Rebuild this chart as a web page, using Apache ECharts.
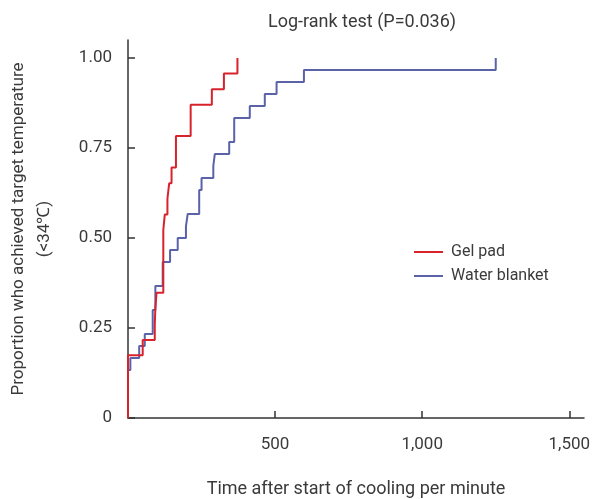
<!DOCTYPE html>
<html>
<head>
<meta charset="utf-8">
<script src="https://cdn.jsdelivr.net/npm/echarts@6/dist/echarts.min.js"></script>
<style>
  html, body { margin: 0; padding: 0; background: #fff; }
</style>
</head>
<body>
<div id="main" style="width: 593px;height:499px;"></div>
<script type="text/javascript">

    // Kaplan-Meier curves (time in minutes, cumulative proportion)
    var gelTime = [0, 0, 50, 91, 93, 97, 120, 120, 120, 120, 125, 134, 140, 148, 163, 163, 213, 213, 285, 326, 372];
    var gelProb = [0, 0.174, 0.217, 0.261, 0.304, 0.348, 0.391, 0.435, 0.478, 0.522, 0.565, 0.609, 0.652, 0.696, 0.739, 0.783, 0.826, 0.870, 0.913, 0.957, 1.0];

    var blanketTime = [0, 0, 8, 38, 57, 84, 84, 93, 93, 118, 118, 143, 169, 197, 203, 242, 242, 250, 290, 295, 344, 361, 361, 414, 465, 505, 598, 1250];
    var blanketProb = [0, 0.133, 0.167, 0.2, 0.233, 0.267, 0.3, 0.333, 0.367, 0.4, 0.433, 0.467, 0.5, 0.533, 0.567, 0.6, 0.633, 0.667, 0.7, 0.733, 0.767, 0.8, 0.833, 0.867, 0.9, 0.933, 0.967, 1.0];

    var xTicks = [500, 1000, 1500];
    var yTicks = [0, 0.25, 0.5, 0.75, 1.0];
    var yTickLabels = ['0', '0.25', '0.50', '0.75', '1.00'];

    function pairs(xs, ys) {
        var out = [];
        for (var i = 0; i < xs.length; i++) {
            out.push([xs[i], ys[i]]);
        }
        return out;
    }

    var myChart = echarts.init(document.getElementById('main'));

    var textColor = '#3a3a3a';
    var font = 'Roboto';

    var option = {
        animation: false,
        title: {
            text: 'Log-rank test (P=0.036)',
            left: 357,
            textAlign: 'center',
            top: 8,
            textStyle: { fontFamily: font, fontSize: 18, fontWeight: 'normal', color: textColor }
        },
        legend: {
            orient: 'vertical',
            left: 409,
            top: 239,
            itemWidth: 29,
            itemHeight: 2,
            itemGap: 8,
            icon: 'rect',
            textStyle: { fontFamily: font, fontSize: 16, color: textColor, lineHeight: 16, padding: [0, 0, 0, 3] },
            data: ['Gel pad', 'Water blanket']
        },
        grid: {
            left: 128,
            right: 9,
            top: 40,
            bottom: 81,
            containLabel: false,
            outerBoundsMode: 'none'
        },
        xAxis: {
            type: 'value',
            min: 0,
            max: 1550,
            name: 'Time after start of cooling per minute',
            nameLocation: 'middle',
            nameGap: 62,
            nameTextStyle: { fontFamily: font, fontSize: 18, color: textColor },
            splitLine: { show: false },
            axisLine: { lineStyle: { color: '#333', width: 1.5 } },
            axisTick: { inside: true, length: 7, customValues: xTicks, lineStyle: { color: '#333', width: 1.5 } },
            axisLabel: {
                customValues: xTicks,
                margin: 18,
                fontFamily: font,
                fontSize: 17,
                color: textColor,
                formatter: function (v) { return v.toLocaleString('en-US'); }
            }
        },
        yAxis: {
            type: 'value',
            min: 0,
            max: 1.05,
            name: 'Proportion who achieved target temperature\n(<34℃)',
            nameLocation: 'middle',
            nameGap: 70,
            nameTextStyle: { fontFamily: font, fontSize: 17, color: textColor, lineHeight: 26 },
            splitLine: { show: false },
            axisLine: { show: true, lineStyle: { color: '#333', width: 1.5 } },
            axisTick: { show: true, inside: true, length: 7, customValues: yTicks, lineStyle: { color: '#333', width: 1.5 } },
            axisLabel: {
                customValues: yTicks,
                margin: 16,
                fontFamily: font,
                fontSize: 17,
                color: textColor,
                formatter: function (v) {
                    var idx = yTicks.indexOf(v);
                    return idx >= 0 ? yTickLabels[idx] : '';
                }
            }
        },
        series: [
            {
                name: 'Water blanket',
                type: 'line',
                step: 'end',
                showSymbol: false,
                color: '#5a62a8',
                lineStyle: { width: 2, color: '#5a62a8' },
                data: pairs(blanketTime, blanketProb)
            },
            {
                name: 'Gel pad',
                type: 'line',
                step: 'end',
                showSymbol: false,
                color: '#d8232c',
                lineStyle: { width: 2, color: '#d8232c' },
                data: pairs(gelTime, gelProb)
            }
        ]
    };

    myChart.setOption(option);
</script>
</body>
</html>
